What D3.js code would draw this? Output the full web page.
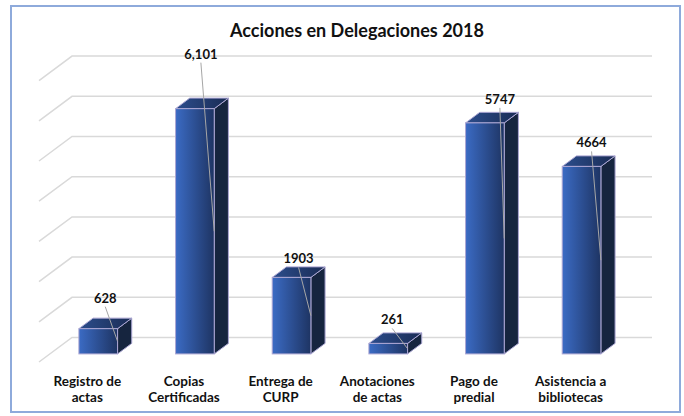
<!DOCTYPE html>
<html>
<head>
  <meta charset="UTF-8" />
  <title>Acciones en Delegaciones 2018</title>
  <style>
    body { margin: 0; background: #fff; }
    svg text { font-family: Lato, "Open Sans", sans-serif; font-weight: bold; fill: #111; }
  </style>
  <script src="https://d3js.org/d3.v7.min.js"></script>
</head>
<body>
  <script>
    /* data */
    let categories = [["Registro de", "actas"], ["Copias", "Certificadas"], ["Entrega de", "CURP"],
      ["Anotaciones", "de actas"], ["Pago de", "predial"], ["Asistencia a", "bibliotecas"]];
    let values = [628, 6101, 1903, 261, 5747, 4664];
    let valueLabels = ["628", "6,101", "1903", "261", "5747", "4664"];
    let yTicks = [0, 1000, 2000, 3000, 4000, 5000, 6000, 7000];

    /* hand-placed data label offsets (from bar top centre) */
    let labelOffsets = [[7, -26], [6, -50], [7, -14], [4, -19], [15, -19], [10, -19]];

    let width = 684, height = 416;
    let depth = { x: 33, y: -24.5 };     // floor front -> back wall
    let front = { left: 39, right: 619, base: 362 };
    let tFront = 0.33, tBack = 0.76;

    let svg = d3.select("body").append("svg")
      .attr("width", width)
      .attr("height", height);

    /* frame */
    svg.append("rect")
      .attr("x", 11).attr("y", 6)
      .attr("width", 669).attr("height", 406)
      .attr("fill", "#fff")
      .attr("stroke", "#8eaadb")
      .attr("stroke-width", 2);

    svg.append("text")
      .attr("x", 357).attr("y", 37)
      .attr("text-anchor", "middle")
      .style("font-size", "18px")
      .text("Acciones en Delegaciones 2018");

    let xScale = d3.scaleBand()
      .domain(d3.range(values.length))
      .range([front.left, front.right])
      .paddingInner(0.6)
      .paddingOuter(0.3);

    // height in px, same for the wall and the bars
    let hScale = d3.scaleLinear().domain([0, 7000]).range([0, 281.4]);

    /* gridlines: back wall + side wall */
    let grid = svg.append("g").attr("stroke", "#d9d9d9").attr("stroke-width", 1.5).attr("fill", "none");
    yTicks.forEach(v => {
      let yb = front.base + depth.y - hScale(v);
      grid.append("path")
        .attr("d", `M${front.left},${yb - depth.y} L${front.left + depth.x},${yb} L${front.right + depth.x},${yb}`);
    });

    /* gradients */
    let defs = svg.append("defs");
    let gFront = defs.append("linearGradient").attr("id", "gFront");
    gFront.append("stop").attr("offset", "0%").attr("stop-color", "#3b6bc4");
    gFront.append("stop").attr("offset", "100%").attr("stop-color", "#1e3463");
    let gTop = defs.append("linearGradient").attr("id", "gTop");
    gTop.append("stop").attr("offset", "0%").attr("stop-color", "#2c4d8c");
    gTop.append("stop").attr("offset", "100%").attr("stop-color", "#1a2c55");

    let fdx = depth.x * tFront, fdy = depth.y * tFront;
    let sdx = depth.x * (tBack - tFront), sdy = depth.y * (tBack - tFront);

    let bars = svg.append("g").selectAll("g")
      .data(values)
      .join("g");

    bars.each(function (v, i) {
      let g = d3.select(this);
      let x0 = xScale(i) + fdx, x1 = x0 + xScale.bandwidth();
      let yb = front.base + fdy, yt = yb - hScale(v);
      let edge = "#aba6d3";
      // side
      g.append("path")
        .attr("d", `M${x1},${yb} L${x1 + sdx},${yb + sdy} L${x1 + sdx},${yt + sdy} L${x1},${yt}Z`)
        .attr("fill", "#16253f").attr("stroke", edge).attr("stroke-width", 1);
      // top
      g.append("path")
        .attr("d", `M${x0},${yt} L${x1},${yt} L${x1 + sdx},${yt + sdy} L${x0 + sdx},${yt + sdy}Z`)
        .attr("fill", "url(#gTop)").attr("stroke", edge).attr("stroke-width", 1);
      // front
      g.append("rect")
        .attr("x", x0).attr("y", yt)
        .attr("width", x1 - x0).attr("height", yb - yt)
        .attr("fill", "url(#gFront)").attr("stroke", edge).attr("stroke-width", 1);

      // data label + leader line
      let lx = (x0 + x1) / 2 + labelOffsets[i][0];
      let ly = yt + labelOffsets[i][1];
      g.append("line")
        .attr("x1", lx).attr("y1", ly + 4)
        .attr("x2", x1).attr("y2", (yt + yb) / 2)
        .attr("stroke", "#a6a6a6").attr("stroke-width", 1);
      g.append("text")
        .attr("x", lx).attr("y", ly)
        .attr("text-anchor", "middle")
        .style("font-size", "13px")
        .text(valueLabels[i]);
    });

    /* category labels, two lines each */
    let catG = svg.append("g");
    categories.forEach((lines, i) => {
      lines.forEach((line, j) => {
        catG.append("text")
          .attr("x", xScale(i) + xScale.bandwidth() / 2)
          .attr("y", 386 + j * 16)
          .attr("text-anchor", "middle")
          .style("font-size", "13.5px")
          .text(line);
      });
    });
  </script>
</body>
</html>
